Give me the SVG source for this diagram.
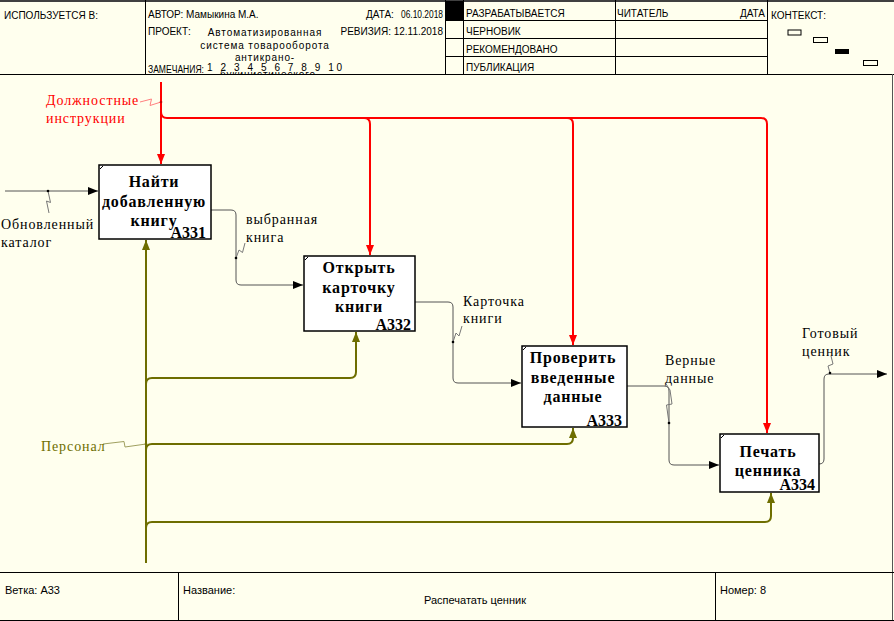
<svg xmlns="http://www.w3.org/2000/svg" width="894" height="621" viewBox="0 0 894 621">
  <defs>
    <style>
      .hd{font-family:"Liberation Sans",Arial,sans-serif;font-size:10px;fill:#000}
      .pj{font-family:"Liberation Sans",Arial,sans-serif;font-size:10px;fill:#000;text-anchor:middle;letter-spacing:0.9px}
      .ft{font-family:"Liberation Sans",Arial,sans-serif;font-size:11px;fill:#000}
      .grid{stroke:#000;stroke-width:1;fill:none}
      .box{fill:#fff;stroke:#000;stroke-width:1.5}
      .tick{stroke:#000;stroke-width:1;fill:none}
      .bt{font-family:"Liberation Serif","Times New Roman",serif;font-size:16px;font-weight:bold;text-anchor:middle;letter-spacing:0.8px;fill:#000}
      .bn{font-family:"Liberation Serif","Times New Roman",serif;font-size:16px;font-weight:bold;text-anchor:end;fill:#000}
      .lb{font-family:"Liberation Serif","Times New Roman",serif;font-size:14px;letter-spacing:0.9px;fill:#000}
      .ctl{stroke:#ff0000;stroke-width:2;fill:none}
      .mech{stroke:#6e6e00;stroke-width:2;fill:none}
      .flow{stroke:#555;stroke-width:1;fill:none}
      .lead{stroke:#777;stroke-width:1;fill:none}
      .lead-r{stroke:#ff8080;stroke-width:1;fill:none}
      .lead-m{stroke:#a0a060;stroke-width:1;fill:none}
    </style>
    <marker id="arr" markerWidth="10" markerHeight="8" refX="10" refY="4" orient="auto" markerUnits="userSpaceOnUse">
      <path d="M0,0 L10,4 L0,8 Z" fill="#000"/>
    </marker>
    <marker id="arr-r" markerWidth="10" markerHeight="8" refX="10" refY="4" orient="auto" markerUnits="userSpaceOnUse">
      <path d="M0,0 L10,4 L0,8 Z" fill="#ff0000"/>
    </marker>
    <marker id="arr-m" markerWidth="10" markerHeight="8" refX="10" refY="4" orient="auto" markerUnits="userSpaceOnUse">
      <path d="M0,0 L10,4 L0,8 Z" fill="#6e6e00"/>
    </marker>
    <clipPath id="projClip">
      <rect x="146" y="0" width="298" height="74"/>
    </clipPath>
  </defs>

  <!-- sheet background -->
  <rect x="0" y="0" width="894" height="621" fill="#ffffee"/>

  <!-- title block (header) -->
  <g id="header">
    <line x1="0" y1="1" x2="894" y2="1" style="stroke:#404040;stroke-width:2"/>
    <line class="grid" x1="0" y1="74.5" x2="894" y2="74.5"/>
    <line class="grid" x1="145.5" y1="0" x2="145.5" y2="74"/>
    <line class="grid" x1="445.5" y1="0" x2="445.5" y2="74"/>
    <line class="grid" x1="463.5" y1="0" x2="463.5" y2="74"/>
    <line class="grid" x1="615.5" y1="0" x2="615.5" y2="74"/>
    <line class="grid" x1="767.5" y1="0" x2="767.5" y2="74"/>
    <line class="grid" x1="445" y1="20.5" x2="767" y2="20.5"/>
    <line class="grid" x1="445" y1="38.5" x2="767" y2="38.5"/>
    <line class="grid" x1="445" y1="56.5" x2="767" y2="56.5"/>
    <rect x="446" y="1" width="17" height="19" fill="#000"/>

    <text class="hd" x="4" y="19">ИСПОЛЬЗУЕТСЯ В:</text>
    <text class="hd" x="148" y="18">АВТОР: Мамыкина М.А.</text>
    <text class="hd" x="148" y="35">ПРОЕКТ:</text>
    <g clip-path="url(#projClip)">
      <text class="pj" x="265" y="36">Автоматизированная</text>
      <text class="pj" x="265" y="49">система товарооборота</text>
      <text class="pj" x="265" y="61">антикрано-</text>
      <text class="pj" x="268" y="78">букинистического</text>
    </g>
    <text class="hd" x="148" y="73" textLength="56" lengthAdjust="spacingAndGlyphs">ЗАМЕЧАНИЯ:</text>
    <text class="hd" x="207" y="71" textLength="135" lengthAdjust="spacing">1 2 3 4 5 6 7 8 9 10</text>
    <text class="hd" x="366" y="18">ДАТА:</text>
    <text class="hd" x="443" y="18" text-anchor="end" textLength="42" lengthAdjust="spacingAndGlyphs">06.10.2018</text>
    <text class="hd" x="443" y="35" text-anchor="end">РЕВИЗИЯ: 12.11.2018</text>

    <text class="hd" x="466" y="17">РАЗРАБАТЫВАЕТСЯ</text>
    <text class="hd" x="466" y="35">ЧЕРНОВИК</text>
    <text class="hd" x="466" y="53">РЕКОМЕНДОВАНО</text>
    <text class="hd" x="466" y="71">ПУБЛИКАЦИЯ</text>
    <text class="hd" x="617" y="17">ЧИТАТЕЛЬ</text>
    <text class="hd" x="765" y="17" text-anchor="end">ДАТА</text>
    <text class="hd" x="771" y="19">КОНТЕКСТ:</text>

    <!-- context map -->
    <rect x="788" y="30" width="13" height="5" fill="none" stroke="#000"/>
    <rect x="813.5" y="37.5" width="14" height="5" fill="none" stroke="#000"/>
    <rect x="835" y="49" width="14" height="5" fill="#000"/>
    <rect x="863.5" y="60.5" width="14" height="5" fill="none" stroke="#000"/>
  </g>

  <!-- right edge of the sheet -->
  <line x1="892.5" y1="74" x2="892.5" y2="621" style="stroke:#555;stroke-width:1"/>

  <!-- connectors -->
  <g id="connectors">
    <!-- controls -->
    <path class="ctl" d="M161,82 V164" marker-end="url(#arr-r)"/>
    <path class="ctl" d="M161,112 q0,6 6,6 H761 q6,0 6,6 V433" marker-end="url(#arr-r)"/>
    <path class="ctl" d="M364,118 q6,0 6,6 V255" marker-end="url(#arr-r)"/>
    <path class="ctl" d="M567,118 q6,0 6,6 V345" marker-end="url(#arr-r)"/>

    <!-- mechanisms -->
    <path class="mech" d="M146,563 V240" marker-end="url(#arr-m)"/>
    <path class="mech" d="M146,384 q0,-6 6,-6 H350 q6,0 6,-6 V332" marker-end="url(#arr-m)"/>
    <path class="mech" d="M146,450 q0,-6 6,-6 H567 q6,0 6,-6 V428" marker-end="url(#arr-m)"/>
    <path class="mech" d="M146,528 q0,-6 6,-6 H765 q6,0 6,-6 V493" marker-end="url(#arr-m)"/>

    <!-- inputs / outputs -->
    <path class="flow" d="M5,191 H98" marker-end="url(#arr)"/>
    <path class="flow" d="M211,210 H231 q5,0 5,5 V280 q0,5 5,5 H303" marker-end="url(#arr)"/>
    <path class="flow" d="M415,302 H448 q5,0 5,5 V378 q0,5 5,5 H521" marker-end="url(#arr)"/>
    <path class="flow" d="M627,386 H664 q5,0 5,5 V460 q0,5 5,5 H719" marker-end="url(#arr)"/>
    <path class="flow" d="M819,464 q5,0 5,-5 V379 q0,-5 5,-5 H887" marker-end="url(#arr)"/>

    <!-- label leaders -->
    <path class="lead-r" d="M140,102 L151.5,99 L150,105.5 L161,102"/>
    <circle cx="161" cy="102" r="1.3" fill="#c00"/>
    <path class="lead" d="M48,191 L50.5,202.5 L46.5,201 L49,213"/>
    <circle cx="48" cy="191" r="1.3" fill="#000"/>
    <path class="lead" d="M236,258 L239,250 L242.5,252.5 L245,243"/>
    <circle cx="236" cy="258" r="1.3" fill="#000"/>
    <path class="lead" d="M453,342 L456,333 L459,336 L462,326"/>
    <circle cx="453" cy="342" r="1.3" fill="#000"/>
    <path class="lead" d="M669,423 L666.5,405 L672,404 L670,390 L666,384"/>
    <circle cx="669" cy="423" r="1.3" fill="#000"/>
    <path class="lead" d="M830,373 L828,366 L833,364 L831,356"/>
    <circle cx="830" cy="373" r="1.3" fill="#000"/>
    <path class="lead-m" d="M103,444 L124,441.5 L125,447 L146,444"/>
    <circle cx="146" cy="444" r="1.3" fill="#6e6e00"/>

    <!-- arrow labels -->
    <text class="lb" x="46" y="105" style="fill:#ff0000">Должностные</text>
    <text class="lb" x="46" y="122.5" style="fill:#ff0000">инструкции</text>
    <text class="lb" x="1" y="229">Обновленный</text>
    <text class="lb" x="1" y="246.5">каталог</text>
    <text class="lb" x="246" y="224">выбранная</text>
    <text class="lb" x="246" y="241.5">книга</text>
    <text class="lb" x="463" y="305.5">Карточка</text>
    <text class="lb" x="463" y="323">книги</text>
    <text class="lb" x="665" y="365">Верные</text>
    <text class="lb" x="665" y="382.5">данные</text>
    <text class="lb" x="802" y="337.5">Готовый</text>
    <text class="lb" x="802" y="355.5">ценник</text>
    <text class="lb" x="41" y="450.5" style="fill:#6e6e00">Персонал</text>
  </g>

  <!-- activity boxes -->
  <g id="A331">
    <rect class="box" x="99" y="165" width="112" height="74"/>
    <path class="tick" d="M100,169 L103,166"/>
    <text class="bt" x="154" y="187">Найти</text>
    <text class="bt" x="154" y="206.5">добавленную</text>
    <text class="bt" x="154" y="226">книгу</text>
    <text class="bn" x="206" y="238">А331</text>
  </g>
  <g id="A332">
    <rect class="box" x="304" y="256" width="111" height="75"/>
    <path class="tick" d="M305,260 L308,257"/>
    <text class="bt" x="359" y="272.5">Открыть</text>
    <text class="bt" x="359" y="292.5">карточку</text>
    <text class="bt" x="359" y="311.5">книги</text>
    <text class="bn" x="411" y="330">А332</text>
  </g>
  <g id="A333">
    <rect class="box" x="522" y="346" width="105" height="81"/>
    <path class="tick" d="M523,350 L526,347"/>
    <text class="bt" x="573" y="362.5">Проверить</text>
    <text class="bt" x="573" y="382.5">введенные</text>
    <text class="bt" x="573" y="401.5">данные</text>
    <text class="bn" x="622" y="426">А333</text>
  </g>
  <g id="A334">
    <rect class="box" x="720" y="434" width="99" height="58"/>
    <path class="tick" d="M721,438 L724,435"/>
    <text class="bt" x="768" y="456.5">Печать</text>
    <text class="bt" x="768" y="475.5">ценника</text>
    <text class="bn" x="815" y="490">А334</text>
  </g>

  <!-- footer -->
  <g id="footer">
    <line class="grid" x1="0" y1="572.5" x2="894" y2="572.5"/>
    <line class="grid" x1="0" y1="620.5" x2="894" y2="620.5"/>
    <line class="grid" x1="178.5" y1="572" x2="178.5" y2="621"/>
    <line class="grid" x1="715.5" y1="572" x2="715.5" y2="621"/>
    <text class="ft" x="5" y="594">Ветка: А33</text>
    <text class="ft" x="183" y="594">Название:</text>
    <text class="ft" x="475" y="604" text-anchor="middle">Распечатать ценник</text>
    <text class="ft" x="720" y="594">Номер: 8</text>
  </g>
</svg>
